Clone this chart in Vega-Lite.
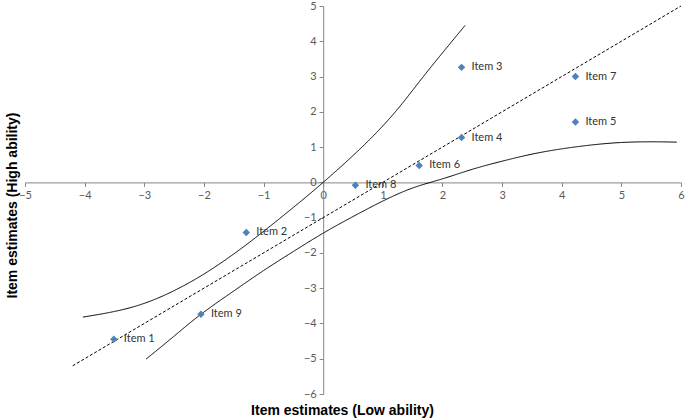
{
  "$schema": "https://vega.github.io/schema/vega-lite/v6.json",
  "width": 656,
  "height": 388,
  "autosize": "none",
  "padding": {"left": 25, "top": 6, "right": 4, "bottom": 26},
  "background": "white",
  "config": {"view": {"stroke": null}, "font": "Lato"},
  "datasets": {
    "items": [
      {"item": "Item 1", "low": -3.51, "high": -4.45},
      {"item": "Item 2", "low": -1.29, "high": -1.42},
      {"item": "Item 3", "low": 2.32, "high": 3.26},
      {"item": "Item 4", "low": 2.32, "high": 1.27},
      {"item": "Item 5", "low": 4.23, "high": 1.71},
      {"item": "Item 6", "low": 1.61, "high": 0.48},
      {"item": "Item 7", "low": 4.23, "high": 3.0},
      {"item": "Item 8", "low": 0.54, "high": -0.08},
      {"item": "Item 9", "low": -2.05, "high": -3.74}
    ],
    "curves": [
      {"band": "identity", "low": -4.2, "high": -5.2},
      {"band": "identity", "low": 6.0, "high": 5.0},
      {"band": "upper", "low": -4.03, "high": -3.82},
      {"band": "upper", "low": -3.5, "high": -3.66},
      {"band": "upper", "low": -3.0, "high": -3.43},
      {"band": "upper", "low": -2.5, "high": -3.07},
      {"band": "upper", "low": -2.0, "high": -2.6},
      {"band": "upper", "low": -1.5, "high": -2.03},
      {"band": "upper", "low": -1.0, "high": -1.39},
      {"band": "upper", "low": -0.5, "high": -0.71},
      {"band": "upper", "low": 0.0, "high": 0.0},
      {"band": "upper", "low": 0.65, "high": 1.0},
      {"band": "upper", "low": 1.21, "high": 2.0},
      {"band": "upper", "low": 1.68, "high": 3.0},
      {"band": "upper", "low": 2.16, "high": 4.0},
      {"band": "upper", "low": 2.38, "high": 4.45},
      {"band": "lower", "low": -2.97, "high": -5.01},
      {"band": "lower", "low": -2.5, "high": -4.36},
      {"band": "lower", "low": -2.05, "high": -3.74},
      {"band": "lower", "low": -1.5, "high": -3.08},
      {"band": "lower", "low": -1.0, "high": -2.5},
      {"band": "lower", "low": -0.5, "high": -1.96},
      {"band": "lower", "low": 0.0, "high": -1.44},
      {"band": "lower", "low": 0.5, "high": -0.97},
      {"band": "lower", "low": 1.0, "high": -0.53},
      {"band": "lower", "low": 1.5, "high": -0.16},
      {"band": "lower", "low": 2.0, "high": 0.1},
      {"band": "lower", "low": 2.5, "high": 0.37},
      {"band": "lower", "low": 3.0, "high": 0.6},
      {"band": "lower", "low": 3.5, "high": 0.8},
      {"band": "lower", "low": 4.0, "high": 0.95},
      {"band": "lower", "low": 4.5, "high": 1.06},
      {"band": "lower", "low": 5.0, "high": 1.13},
      {"band": "lower", "low": 5.5, "high": 1.15},
      {"band": "lower", "low": 5.93, "high": 1.14}
    ]
  },
  "encoding": {
    "x": {
      "field": "low", "type": "quantitative",
      "scale": {"domain": [-5, 6], "nice": false, "zero": false},
      "axis": {
        "title": "Item estimates (Low ability)",
        "orient": "bottom",
        "offset": -211.6,
        "values": [-5, -4, -3, -2, -1, 0, 1, 2, 3, 4, 5, 6],
        "tickCount": 20,
        "format": "d",
        "labelOverlap": false,
        "labelFlush": false,
        "grid": false,
        "domainColor": "#868686",
        "tickColor": "#868686",
        "tickSize": 4,
        "labelPadding": 3,
        "labelFont": "Lato",
        "labelFontSize": 11,
        "labelColor": "#595959",
        "titleFont": "Liberation Sans",
        "titleFontSize": 14,
        "titleFontWeight": "bold",
        "titleColor": "#000000",
        "titleX": 317,
        "titleY": 228,
        "titleBaseline": "middle"
      }
    },
    "y": {
      "field": "high", "type": "quantitative",
      "scale": {"domain": [-6, 5], "nice": false, "zero": false},
      "axis": {
        "title": "Item estimates (High ability)",
        "orient": "left",
        "offset": -298.2,
        "values": [-6, -5, -4, -3, -2, -1, 0, 1, 2, 3, 4, 5],
        "tickCount": 20,
        "format": "d",
        "labelOverlap": false,
        "grid": false,
        "domainColor": "#868686",
        "tickColor": "#868686",
        "tickSize": 4,
        "labelPadding": 3,
        "labelFont": "Lato",
        "labelFontSize": 11,
        "labelColor": "#595959",
        "titleFont": "Liberation Sans",
        "titleFontSize": 14,
        "titleFontWeight": "bold",
        "titleColor": "#000000",
        "titleX": -311,
        "titleY": 199,
        "titleBaseline": "middle",
        "titleAngle": -90
      }
    }
  },
  "layer": [
    {
      "data": {"name": "curves"},
      "mark": {"type": "line", "color": "#000000", "strokeWidth": 1, "interpolate": "natural"},
      "encoding": {
        "detail": {"field": "band"},
        "strokeDash": {
          "field": "band", "type": "nominal",
          "scale": {"domain": ["upper", "lower", "identity"], "range": [[1, 0], [1, 0], [3, 2]]},
          "legend": null
        }
      }
    },
    {
      "data": {"name": "items"},
      "mark": {"type": "point", "shape": "diamond", "filled": true, "color": "#4F81BD", "size": 55, "opacity": 1},
      "encoding": {}
    },
    {
      "data": {"name": "items"},
      "mark": {"type": "text", "align": "left", "baseline": "middle", "dx": 10, "font": "Lato", "fontSize": 11, "color": "#333333"},
      "encoding": {
        "text": {"field": "item"}
      }
    }
  ]
}
